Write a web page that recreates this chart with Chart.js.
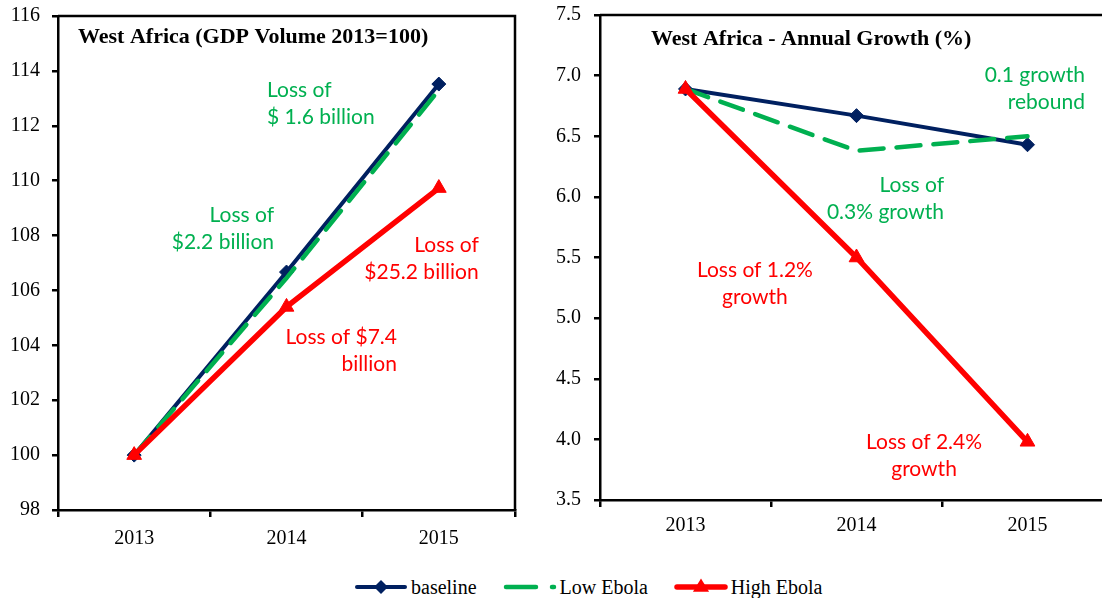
<!DOCTYPE html>
<html>
<head>
<meta charset="utf-8">
<script src="https://cdn.jsdelivr.net/npm/chart.js@4.4.1/dist/chart.umd.min.js"></script>
<style>
  html, body { margin: 0; padding: 0; background: #fff; width: 1102px; height: 598px; overflow: hidden; position: relative; }
  #gdpBox { position: absolute; left: 0; top: 0; }
  #growthBox { position: absolute; left: 540px; top: 0; }
  #legend { position: absolute; left: 354px; top: 575px; height: 24px; display: flex; align-items: center;
            font: 20px "Liberation Serif", "Times New Roman", serif; color: #000; white-space: nowrap; }
  #legend .item { display: flex; align-items: center; margin-right: 26px; }
  #legend canvas { margin-right: 3px; }
</style>
</head>
<body>
<div id="gdpBox"><canvas id="gdpChart" width="560" height="560"></canvas></div>
<div id="growthBox"><canvas id="growthChart" width="600" height="560"></canvas></div>
<div id="legend"></div>
<script>
// data
var years = ["2013", "2014", "2015"];
var seriesNames = ["baseline", "Low Ebola", "High Ebola"];

var gdpBaseline = [100, 106.67, 113.52];
var gdpLow      = [100, 106.45, 113.3];
var gdpHigh     = [100, 105.4, 109.73];
var gdpTicks    = [98, 100, 102, 104, 106, 108, 110, 112, 114, 116];

var growthBaseline = [6.89, 6.67, 6.43];
var growthLow      = [6.89, 6.38, 6.5];
var growthHigh     = [6.89, 5.5, 3.98];
var growthTicks    = [3.5, 4.0, 4.5, 5.0, 5.5, 6.0, 6.5, 7.0, 7.5];

var NAVY = "#002060", GREEN = "#00B050", RED = "#FF0000";
var SERIF = '"Liberation Serif", "Times New Roman", serif';
var SANS = 'Lato, "Noto Sans", sans-serif';

var styles = [
  { color: NAVY, width: 4, dash: [], point: "rectRot", radius: 7 },
  { color: GREEN, width: 4.5, dash: [24, 13], point: "circle", radius: 0 },
  { color: RED, width: 5.5, dash: [], point: "triangle", radius: 8.5 }
];

function makeDatasets(values) {
  return values.map(function (v, i) {
    var s = styles[i];
    return {
      label: seriesNames[i],
      data: v,
      borderColor: s.color,
      backgroundColor: s.color,
      borderWidth: s.width,
      borderDash: s.dash,
      borderCapStyle: "round",
      pointStyle: s.point,
      pointRadius: s.radius,
      pointHoverRadius: s.radius,
      pointBorderWidth: 1,
      tension: 0,
      order: 2 - i
    };
  });
}

// frame, title and notes on top of each chart
var decorPlugin = {
  id: "decor",
  afterDraw: function (chart) {
    var ctx = chart.ctx, a = chart.chartArea;
    var o = chart.options.plugins.decor;
    ctx.save();
    ctx.strokeStyle = "#000";
    ctx.lineWidth = 2.5;
    ctx.beginPath();
    ctx.moveTo(a.left, a.top);
    ctx.lineTo(a.right, a.top);
    ctx.lineTo(a.right, a.bottom);
    ctx.stroke();

    ctx.fillStyle = "#000";
    ctx.font = "bold 22px " + SERIF;
    ctx.textAlign = "left";
    ctx.textBaseline = "middle";
    ctx.fillText(o.title, a.left + o.titleDx, a.top + o.titleDy);

    var xs = chart.scales.x, ys = chart.scales.y;
    ctx.font = "21px " + SANS;
    o.notes.forEach(function (n) {
      var px = xs.getPixelForValue(n.x), py = ys.getPixelForValue(n.y);
      ctx.fillStyle = n.color;
      ctx.textAlign = n.align;
      n.lines.forEach(function (t, k) {
        ctx.fillText(t, px, py + k * 27);
      });
    });
    ctx.restore();
  }
};

function makeChart(id, values, ticks, cfg) {
  return new Chart(document.getElementById(id), {
    type: "line",
    data: { labels: years, datasets: makeDatasets(values) },
    plugins: [decorPlugin],
    options: {
      responsive: false,
      animation: false,
      devicePixelRatio: 1,
      layout: { padding: cfg.padding, autoPadding: false },
      plugins: {
        legend: { display: false },
        tooltip: { enabled: false },
        decor: cfg.decor
      },
      scales: {
        x: {
          offset: true,
          grid: { offset: true, drawOnChartArea: false, drawTicks: true, tickLength: 7, color: "#000", lineWidth: 2.5 },
          border: { color: "#000", width: 2.5 },
          ticks: { color: "#000", font: { family: SERIF, size: 20 }, padding: cfg.xPad },
          afterFit: function (s) { s.height = cfg.xHeight; s.paddingLeft = 0; s.paddingRight = 0; }
        },
        y: {
          min: ticks[0],
          max: ticks[ticks.length - 1],
          grid: { drawOnChartArea: false, drawTicks: true, tickLength: 6, color: "#000", lineWidth: 2.5 },
          border: { color: "#000", width: 2.5 },
          ticks: {
            stepSize: ticks[1] - ticks[0],
            color: "#000",
            font: { family: SERIF, size: 20 },
            padding: cfg.yPad,
            callback: function (v) { return cfg.decimals ? Number(v).toFixed(1) : v; }
          },
          afterFit: function (s) { s.width = cfg.yWidth; s.paddingTop = 0; s.paddingBottom = 0; }
        }
      }
    }
  });
}

makeChart("gdpChart", [gdpBaseline, gdpLow, gdpHigh], gdpTicks, {
  padding: { left: 0, top: 16, right: 45, bottom: 0 },
  xHeight: 50, yWidth: 58, xPad: 10, yPad: 12, decimals: false,
  decor: {
    title: "West Africa (GDP Volume 2013=100)", titleDx: 20, titleDy: 21,
    notes: [
      { lines: ["Loss of", "$ 1.6 billion"], x: 0.872, y: 113.31, align: "left", color: GREEN },
      { lines: ["Loss of", "$2.2 billion"], x: 0.918, y: 108.75, align: "right", color: GREEN },
      { lines: ["Loss of", "$25.2 billion"], x: 2.262, y: 107.66, align: "right", color: RED },
      { lines: ["Loss of $7.4", "billion"], x: 1.725, y: 104.3, align: "right", color: RED }
    ]
  }
});

makeChart("growthChart", [growthBaseline, growthLow, growthHigh], growthTicks, {
  padding: { left: 0, top: 15, right: 27, bottom: 0 },
  xHeight: 60, yWidth: 60, xPad: 7, yPad: 13, decimals: true,
  decor: {
    title: "West Africa - Annual Growth (%)", titleDx: 51, titleDy: 24,
    notes: [
      { lines: ["0.1 growth", "rebound"], x: 2.336, y: 7.005, align: "right", color: GREEN },
      { lines: ["Loss of", "0.3% growth"], x: 1.512, y: 6.098, align: "right", color: GREEN },
      { lines: ["Loss of 1.2%", "growth"], x: 0.406, y: 5.397, align: "center", color: RED },
      { lines: ["Loss of 2.4%", "growth"], x: 1.395, y: 3.978, align: "center", color: RED }
    ]
  }
});

// legend: line sample with its marker, then the name
var legendEl = document.getElementById("legend");
styles.forEach(function (s, i) {
  var item = document.createElement("div");
  item.className = "item";
  var c = document.createElement("canvas");
  c.width = 54; c.height = 20;
  var g = c.getContext("2d");
  g.strokeStyle = s.color; g.fillStyle = s.color;
  g.lineWidth = s.width; g.lineCap = "round";
  g.setLineDash(i === 1 ? [30, 16] : []);
  g.beginPath(); g.moveTo(3, 10); g.lineTo(51, 10); g.stroke();
  g.setLineDash([]);
  if (s.radius > 0) {
    g.beginPath();
    if (s.point === "rectRot") {
      g.moveTo(27, 10 - s.radius); g.lineTo(27 + s.radius, 10); g.lineTo(27, 10 + s.radius); g.lineTo(27 - s.radius, 10);
    } else {
      g.moveTo(27, 10 - s.radius); g.lineTo(27 + s.radius * 0.95, 10 + s.radius * 0.55); g.lineTo(27 - s.radius * 0.95, 10 + s.radius * 0.55);
    }
    g.closePath(); g.fill();
  }
  var t = document.createElement("span");
  t.textContent = seriesNames[i];
  item.appendChild(c); item.appendChild(t);
  legendEl.appendChild(item);
});
</script>
</body>
</html>
